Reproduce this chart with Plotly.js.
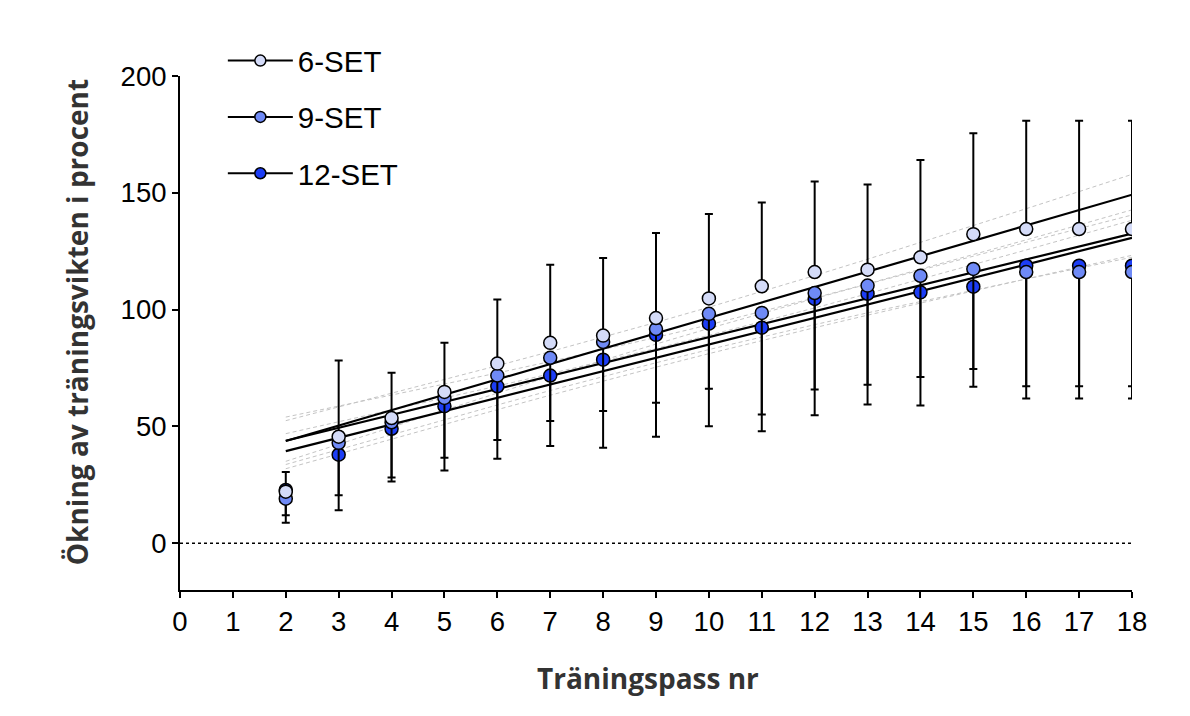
<!DOCTYPE html>
<html>
<head>
<meta charset="utf-8">
<script src="https://cdn.plot.ly/plotly-3.0.1.min.js"></script>
<style>html,body{margin:0;padding:0;background:#fff;}#chart{width:1190px;height:716px;}</style>
</head>
<body>
<div id="chart"></div>
<script>
// Träningspass (session numbers)
const sessions = [2, 3, 4, 5, 6, 7, 8, 9, 10, 11, 12, 13, 14, 15, 16, 17, 18];
// Mean increase (%) per group
const set6  = [22.1, 45.6, 53.6, 64.8, 76.9, 85.8, 88.9, 96.4, 104.8, 110.0, 116.1, 117.1, 122.4, 132.3, 134.5, 134.5, 134.5];
const set9  = [19.1, 43.0, 51.8, 62.2, 71.8, 79.4, 86.2, 91.7, 98.2, 98.6, 107.1, 110.3, 114.5, 117.4, 116.1, 116.1, 116.1];
const set12 = [22.8, 37.9, 49.0, 58.7, 67.2, 71.8, 78.6, 89.2, 94.0, 92.3, 104.6, 106.8, 107.4, 109.8, 118.8, 118.8, 118.8];
// Error bars (6-SET drawn upward, 9-SET and 12-SET drawn downward)
const err6  = [8.4, 32.6, 19.4, 21.0, 27.4, 33.4, 33.2, 36.4, 36.1, 35.9, 38.7, 36.5, 41.6, 43.2, 46.3, 46.3, 46.3];
const err9  = [7.1, 22.4, 23.6, 25.6, 27.6, 27.1, 29.6, 31.6, 32.1, 43.5, 41.3, 42.4, 43.3, 42.8, 48.9, 48.9, 48.9];
const err12 = [14.0, 23.8, 22.6, 27.5, 31.0, 30.2, 37.7, 43.6, 43.9, 44.3, 49.8, 47.4, 48.4, 42.8, 56.8, 56.8, 56.8];
const groupNames = ['6-SET', '9-SET', '12-SET'];
const groupColors = ['#d4dbf8', '#6f8af6', '#1c3df5'];
const xTicks = [0,1,2,3,4,5,6,7,8,9,10,11,12,13,14,15,16,17,18];
const yTicks = [0, 50, 100, 150, 200];
const xTitle = 'Träningspass nr';
const yTitle = 'Ökning av träningsvikten i procent';

const zeros = sessions.map(() => 0);
const T15 = 2.131; // t(0.975, df=15)

function linfit(x, y) {
  const n = x.length;
  const mx = x.reduce((a, b) => a + b, 0) / n;
  const my = y.reduce((a, b) => a + b, 0) / n;
  let sxx = 0, sxy = 0;
  for (let i = 0; i < n; i++) { sxx += (x[i]-mx)*(x[i]-mx); sxy += (x[i]-mx)*(y[i]-my); }
  const b = sxy / sxx, a = my - b * mx;
  let sse = 0;
  for (let i = 0; i < n; i++) { const r = y[i] - (a + b*x[i]); sse += r*r; }
  const s = Math.sqrt(sse / (n - 2));
  return {n, mx, sxx, a, b, s};
}

const traces = [];
const series = [set6, set9, set12];
// Confidence bands and regression lines (below markers)
series.forEach((ys) => {
  const f = linfit(sessions, ys);
  const yhat = sessions.map(x => f.a + f.b * x);
  const half = sessions.map(x => T15 * f.s * Math.sqrt(1/f.n + (x-f.mx)*(x-f.mx)/f.sxx));
  traces.push({x: sessions, y: yhat.map((v,i) => v + half[i]), mode: 'lines', showlegend: false, hoverinfo: 'skip',
    line: {color: '#c4c4c4', width: 1, dash: '4px,3px'}});
  traces.push({x: sessions, y: yhat.map((v,i) => v - half[i]), mode: 'lines', showlegend: false, hoverinfo: 'skip',
    line: {color: '#c4c4c4', width: 1, dash: '4px,3px'}});
});
series.forEach((ys) => {
  const f = linfit(sessions, ys);
  traces.push({x: [sessions[0], sessions[sessions.length-1]],
    y: [f.a + f.b*sessions[0], f.a + f.b*sessions[sessions.length-1]],
    mode: 'lines', showlegend: false, hoverinfo: 'skip', line: {color: '#000', width: 2.2}});
});

// Markers with error bars, drawn 12 -> 9 -> 6 so 6-SET is on top
const errs = [
  {array: err6, arrayminus: zeros},
  {array: zeros, arrayminus: err9},
  {array: zeros, arrayminus: err12}
];
[2, 1, 0].forEach((g) => {
  traces.push({
    x: sessions, y: series[g], mode: 'markers', name: groupNames[g], showlegend: false,
    marker: {size: 13, color: groupColors[g], line: {color: '#000', width: 1.5}},
    error_y: {type: 'data', symmetric: false, array: errs[g].array, arrayminus: errs[g].arrayminus,
      color: '#000', thickness: 2, width: 4}
  });
});
// Legend entries (line + marker symbol)
[0, 1, 2].forEach((g) => {
  traces.push({
    x: [null], y: [null], mode: 'lines+markers', name: groupNames[g], legendrank: g + 1,
    legendgroup: 'g' + g,
    line: {color: '#000', width: 2},
    marker: {size: 11, color: groupColors[g], line: {color: '#000', width: 1.5}}
  });
});

const titleFont = {family: 'Open Sans, sans-serif', size: 28, color: '#333', weight: 'bold'};
const layout = {
  width: 1190, height: 716,
  margin: {l: 180, r: 58, t: 76, b: 126},
  paper_bgcolor: '#fff', plot_bgcolor: '#fff',
  font: {family: 'Liberation Sans, Arial, sans-serif', color: '#000', size: 28},
  showlegend: true,
  legend: {x: 0.045, y: 1.08, xanchor: 'left', yanchor: 'top', bgcolor: 'rgba(0,0,0,0)',
    font: {family: 'Liberation Sans, Arial, sans-serif', size: 29.5, color: '#000'},
    tracegroupgap: 15, itemwidth: 65},
  xaxis: {
    range: [0, 18], tickvals: xTicks, ticktext: xTicks.map(String),
    showgrid: false, zeroline: false, showline: true, linecolor: '#000', linewidth: 2,
    ticks: 'outside', ticklen: 6, tickwidth: 2, tickcolor: '#000',
    tickfont: {family: 'Liberation Sans, Arial, sans-serif', size: 27.5, color: '#000'}
  },
  yaxis: {
    range: [-20, 200], tickvals: yTicks, ticktext: yTicks.map(String),
    showgrid: false, zeroline: false, showline: true, linecolor: '#000', linewidth: 2,
    ticks: 'outside', ticklen: 6, tickwidth: 2, tickcolor: '#000',
    tickfont: {family: 'Liberation Sans, Arial, sans-serif', size: 27.5, color: '#000'}
  },
  annotations: [
    {text: xTitle, xref: 'paper', yref: 'paper', x: 0.4916, y: -0.171, xanchor: 'center', yanchor: 'middle',
      showarrow: false, font: titleFont},
    {text: yTitle, xref: 'paper', yref: 'paper', x: -0.1082, y: 0.521, xanchor: 'center', yanchor: 'middle',
      textangle: -90, showarrow: false, font: titleFont}
  ],
  shapes: [{type: 'line', xref: 'x', yref: 'y', x0: 0, x1: 18, y0: 0, y1: 0,
    line: {color: '#000', width: 1.5, dash: 'dot'}}]
};

Plotly.newPlot('chart', traces, layout, {staticPlot: true, displayModeBar: false});
</script>
</body>
</html>
